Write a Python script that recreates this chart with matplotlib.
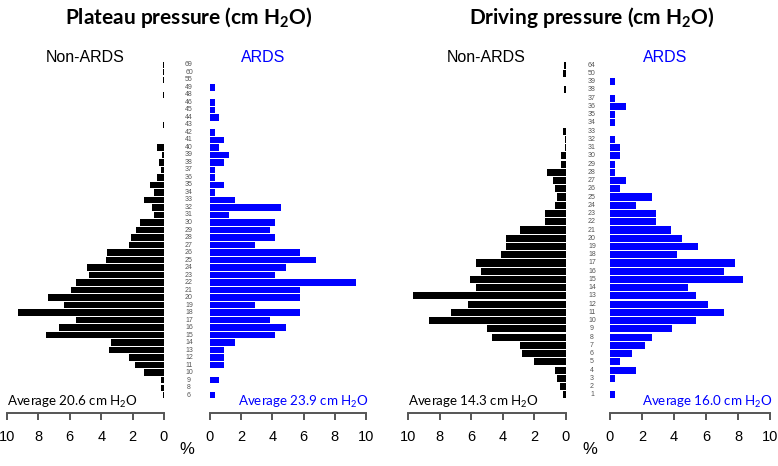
import matplotlib.pyplot as plt
import numpy as np

plt.rcParams['mathtext.fontset'] = 'custom'
plt.rcParams['mathtext.rm'] = 'Lato'
plt.rcParams['mathtext.bf'] = 'Lato:bold'

# plateau pressure categories (bottom to top) and % of patients
plateau_cats = [6, 8, 9] + list(range(10, 47)) + [48, 49, 55, 60, 69]
plateau_non = [0.08, 0.17, 0.17, 1.27, 1.87, 2.25, 3.5, 3.4, 7.5, 6.7,
               5.6, 9.3, 6.4, 7.4, 5.9, 5.6, 4.8, 4.9, 3.7, 3.6,
               2.25, 2.1, 1.8, 1.5, 0.64, 0.76, 1.27, 0.64, 0.9, 0.43,
               0.17, 0.3, 0.1, 0.43, 0, 0, 0.06, 0, 0, 0,
               0.06, 0, 0.06, 0.06, 0.06]
plateau_ards = [0.3, 0, 0.6, 0, 0.92, 0.92, 0.92, 1.6, 4.17, 4.85,
                3.85, 5.77, 2.88, 5.77, 5.77, 9.36, 4.17, 4.85, 6.77, 5.77,
                2.88, 4.17, 3.85, 4.17, 1.24, 4.55, 1.6, 0.3, 0.92, 0.3,
                0.3, 0.92, 1.24, 0.6, 0.92, 0.3, 0, 0.6, 0.3, 0.3,
                0, 0.3, 0, 0, 0]

# driving pressure categories (bottom to top)
driving_cats = list(range(1, 40)) + [50, 64]
driving_non = [0.2, 0.4, 0.6, 0.7, 2.0, 2.8, 2.9, 4.7, 5.0, 8.7,
               7.3, 6.2, 9.7, 5.7, 6.1, 5.4, 5.7, 4.1, 3.8, 3.8,
               2.9, 1.36, 1.35, 0.7, 0.6, 0.7, 0.8, 1.2, 0.32, 0.32,
               0.06, 0.06, 0.17, 0, 0, 0, 0, 0.1, 0, 0.2, 0.1]
driving_ards = [0.3, 0, 0.3, 1.6, 0.6, 1.4, 2.2, 2.6, 3.9, 5.4,
                7.1, 6.1, 5.4, 4.9, 8.3, 7.1, 7.8, 4.2, 5.5, 4.5,
                3.8, 2.9, 2.9, 1.6, 2.6, 0.6, 1.0, 0.3, 0.3, 0.6,
                0.6, 0.3, 0, 0.3, 0.3, 1.0, 0.3, 0, 0.3, 0, 0]

W, H = 778, 466
fig = plt.figure(figsize=(W / 100, H / 100), dpi=100)

TOP, BOT = 61.0, 399.0


def px(x, y):
    return x / W, 1 - y / H


def side(x0, x1, n, vals, color, flip):
    ax = fig.add_axes([x0 / W, 1 - BOT / H, (x1 - x0) / W, (BOT - TOP) / H])
    ax.barh(np.arange(n), vals, height=0.86, color=color, linewidth=0)
    ax.set_ylim(-0.5, n - 0.5)
    ax.set_xlim((10, 0) if flip else (0, 10))
    for s in ['top', 'left', 'right']:
        ax.spines[s].set_visible(False)
    sp = ax.spines['bottom']
    sp.set_position(('outward', 10))
    sp.set_bounds(0, 10)
    sp.set_color('#555555')
    sp.set_linewidth(1.4)
    ax.set_yticks([])
    ax.set_xticks(range(0, 11, 2))
    ax.tick_params(axis='x', direction='out', length=5, width=1.4,
                   color='#555555', labelsize=10.5, pad=7)
    for t in ax.get_xticklabels():
        t.set_family('Liberation Sans')
    ax.patch.set_visible(False)
    return ax


def panel(cats, non, ards, xs, mid, title, avg_non, avg_ards, lab):
    n = len(cats)
    side(xs[0], xs[1], n, non, 'black', True)
    side(xs[2], xs[3], n, ards, '#0000ff', False)
    step = (BOT - TOP) / n
    for i, c in enumerate(cats):
        y = BOT - step * (i + 0.5)
        fig.text(*px(mid, y), str(c), ha='center', va='center', fontsize=5,
                 color='#555555', family='Liberation Sans')
    fig.text(*px(mid, 18), title, ha='center', va='center', fontsize=15,
             fontweight='bold', family='Lato')
    fig.text(*px(lab[0], 57), 'Non-ARDS', ha='center',
             va='center', fontsize=11.5, family='Liberation Sans')
    fig.text(*px(lab[1], 57), 'ARDS', ha='center', va='center',
             fontsize=11.5, color='#0000ff', family='Liberation Sans')
    fig.text(*px(xs[0], 402), 'Average %s cm H$_2$O' % avg_non, ha='left',
             va='center', fontsize=9.6, family='Lato')
    fig.text(*px(xs[3] + 3, 402), 'Average %s cm H$_2$O' % avg_ards,
             ha='right', va='center', fontsize=9.6, color='#0000ff',
             family='Lato')
    fig.text(*px(mid - 2, 449), '%', ha='center', va='center', fontsize=12,
             family='Liberation Sans')


panel(plateau_cats, plateau_non, plateau_ards, (7, 164, 210, 366), 189,
      'Plateau pressure (cm H$_\\mathbf{2}$O)', '20.6', '23.9', (85, 263))
panel(driving_cats, driving_non, driving_ards, (408, 566, 610, 770), 592,
      'Driving pressure (cm H$_\\mathbf{2}$O)', '14.3', '16.0', (486, 665))

fig.savefig('out.png', dpi=100)
